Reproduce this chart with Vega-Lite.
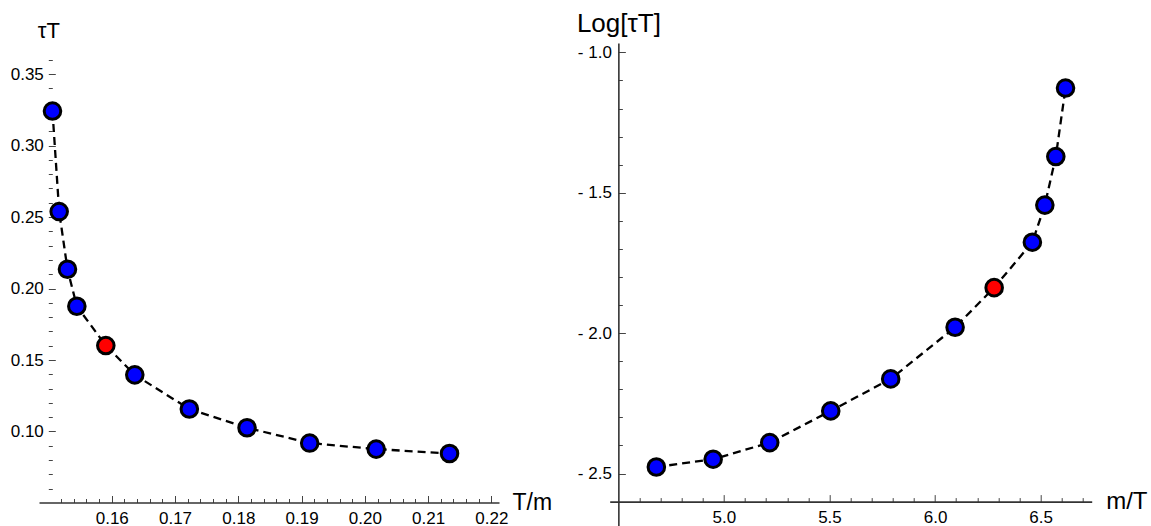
{
  "$schema": "https://vega.github.io/schema/vega-lite/v6.json",
  "padding": {"left": 10, "top": 10, "right": 0, "bottom": 0},
  "background": "white",
  "config": {
    "view": {"stroke": null},
    "font": "Liberation Sans",
    "axis": {
      "grid": false,
      "domainColor": "#333333",
      "domainWidth": 1.6,
      "tickColor": "#444444",
      "tickWidth": 1,
      "labelColor": "black",
      "labelFontSize": 17,
      "labelOverlap": false,
      "labelFlush": false,
      "labelBound": false,
      "titleColor": "black",
      "titleFontWeight": "normal",
      "titleAngle": 0
    }
  },
  "datasets": {
    "left": [
      {"tm": 0.15063, "tauT": 0.3241, "ref": "no"},
      {"tm": 0.15169, "tauT": 0.2538, "ref": "no"},
      {"tm": 0.1530, "tauT": 0.2135, "ref": "no"},
      {"tm": 0.15448, "tauT": 0.1876, "ref": "no"},
      {"tm": 0.15906, "tauT": 0.1601, "ref": "yes"},
      {"tm": 0.16364, "tauT": 0.1396, "ref": "no"},
      {"tm": 0.17226, "tauT": 0.1157, "ref": "no"},
      {"tm": 0.18138, "tauT": 0.1026, "ref": "no"},
      {"tm": 0.19128, "tauT": 0.0919, "ref": "no"},
      {"tm": 0.20179, "tauT": 0.0877, "ref": "no"},
      {"tm": 0.21338, "tauT": 0.0846, "ref": "no"}
    ],
    "right": [
      {"mT": 4.680, "logTauT": -2.477, "ref": "no"},
      {"mT": 4.949, "logTauT": -2.449, "ref": "no"},
      {"mT": 5.217, "logTauT": -2.390, "ref": "no"},
      {"mT": 5.506, "logTauT": -2.277, "ref": "no"},
      {"mT": 5.790, "logTauT": -2.163, "ref": "no"},
      {"mT": 6.095, "logTauT": -1.979, "ref": "no"},
      {"mT": 6.280, "logTauT": -1.838, "ref": "yes"},
      {"mT": 6.461, "logTauT": -1.676, "ref": "no"},
      {"mT": 6.520, "logTauT": -1.544, "ref": "no"},
      {"mT": 6.572, "logTauT": -1.371, "ref": "no"},
      {"mT": 6.618, "logTauT": -1.127, "ref": "no"}
    ]
  },
  "spacing": 110.7,
  "bounds": "flush",
  "hconcat": [
    {
      "width": 460,
      "height": 469,
      "data": {"name": "left"},
      "encoding": {
        "x": {
          "field": "tm", "type": "quantitative",
          "scale": {"domain": [0.1485, 0.2212], "nice": false, "zero": false},
          "axis": {
            "values": [0.152,0.154,0.156,0.158,0.16,0.162,0.164,0.166,0.168,0.17,0.172,0.174,0.176,0.178,0.18,0.182,0.184,0.186,0.188,0.19,0.192,0.194,0.196,0.198,0.2,0.202,0.204,0.206,0.208,0.21,0.212,0.214,0.216,0.218,0.22],
            "labelExpr": "abs(datum.value*100 - round(datum.value*100)) < 0.01 ? format(datum.value, '.2f') : ''",
            "tickSize": {"condition": {"test": "abs(datum.value*100 - round(datum.value*100)) < 0.01", "value": -7}, "value": -4},
            "offset": -9.5,
            "labelPadding": 15,
            "title": "T/m",
            "titleX": 473, "titleY": 0,
            "titleAlign": "left", "titleBaseline": "middle",
            "titleFontSize": 23
          }
        },
        "y": {
          "field": "tauT", "type": "quantitative",
          "scale": {"domain": [0.0437, 0.3717], "nice": false, "zero": false},
          "axis": {
            "values": [0.06,0.07,0.08,0.09,0.10,0.11,0.12,0.13,0.14,0.15,0.16,0.17,0.18,0.19,0.20,0.21,0.22,0.23,0.24,0.25,0.26,0.27,0.28,0.29,0.30,0.31,0.32,0.33,0.34,0.35,0.36],
            "labelExpr": "abs(datum.value*20 - round(datum.value*20)) < 0.01 ? format(datum.value, '.2f') : ''",
            "tickSize": {"condition": {"test": "abs(datum.value*20 - round(datum.value*20)) < 0.01", "value": -7}, "value": -4},
            "offset": -9.3,
            "domain": false,
            "labelPadding": 12,
            "title": "τT",
            "titleX": 0, "titleY": -6,
            "titleAlign": "center", "titleBaseline": "alphabetic",
            "titleFontSize": 22
          }
        }
      },
      "layer": [
        {
          "data": {"values": [{}]},
          "mark": {"type": "rule", "color": "#333333", "strokeWidth": 1.6},
          "encoding": {
            "x": {"datum": 0.15, "type": "quantitative"},
            "y": {"datum": 0.0437, "type": "quantitative"},
            "y2": {"datum": 0.366}
          }
        },
        {
          "mark": {"type": "line", "color": "black", "strokeWidth": 2.3, "strokeDash": [8, 5]}
        },
        {
          "mark": {"type": "point", "shape": "circle", "filled": true, "size": 275, "stroke": "black", "strokeWidth": 3, "opacity": 1},
          "encoding": {
            "fill": {"field": "ref", "type": "nominal", "scale": {"domain": ["no", "yes"], "range": ["#0000ff", "#ff0000"]}, "legend": null}
          }
        }
      ]
    },
    {
      "width": 482,
      "height": 483,
      "data": {"name": "right"},
      "encoding": {
        "x": {
          "field": "mT", "type": "quantitative",
          "scale": {"domain": [4.459, 6.742], "nice": false, "zero": false},
          "axis": {
            "values": [4.6,4.7,4.8,4.9,5.0,5.1,5.2,5.3,5.4,5.5,5.6,5.7,5.8,5.9,6.0,6.1,6.2,6.3,6.4,6.5,6.6,6.7],
            "labelExpr": "abs(datum.value*2 - round(datum.value*2)) < 0.01 ? format(datum.value, '.1f') : ''",
            "tickSize": {"condition": {"test": "abs(datum.value*2 - round(datum.value*2)) < 0.01", "value": -7}, "value": -4},
            "offset": -24.4,
            "labelPadding": 15,
            "title": "m/T",
            "titleX": 496, "titleY": 0,
            "titleAlign": "left", "titleBaseline": "middle",
            "titleFontSize": 24
          }
        },
        "y": {
          "field": "logTauT", "type": "quantitative",
          "scale": {"domain": [-2.687, -0.9665], "nice": false, "zero": false},
          "axis": {
            "values": [-2.5,-2.4,-2.3,-2.2,-2.1,-2.0,-1.9,-1.8,-1.7,-1.6,-1.5,-1.4,-1.3,-1.2,-1.1,-1.0],
            "labelExpr": "abs(datum.value*2 - round(datum.value*2)) < 0.01 ? '- ' + format(abs(datum.value), '.1f') : ''",
            "tickSize": {"condition": {"test": "abs(datum.value*2 - round(datum.value*2)) < 0.01", "value": -7}, "value": -4},
            "offset": -8.66,
            "labelPadding": 14,
            "title": "Log[τT]",
            "titleX": 0, "titleY": -12,
            "titleAlign": "center", "titleBaseline": "alphabetic",
            "titleFontSize": 26
          }
        }
      },
      "layer": [
        {
          "mark": {"type": "line", "color": "black", "strokeWidth": 2.3, "strokeDash": [8, 5]}
        },
        {
          "mark": {"type": "point", "shape": "circle", "filled": true, "size": 275, "stroke": "black", "strokeWidth": 3, "opacity": 1},
          "encoding": {
            "fill": {"field": "ref", "type": "nominal", "scale": {"domain": ["no", "yes"], "range": ["#0000ff", "#ff0000"]}, "legend": null}
          }
        }
      ]
    }
  ]
}
